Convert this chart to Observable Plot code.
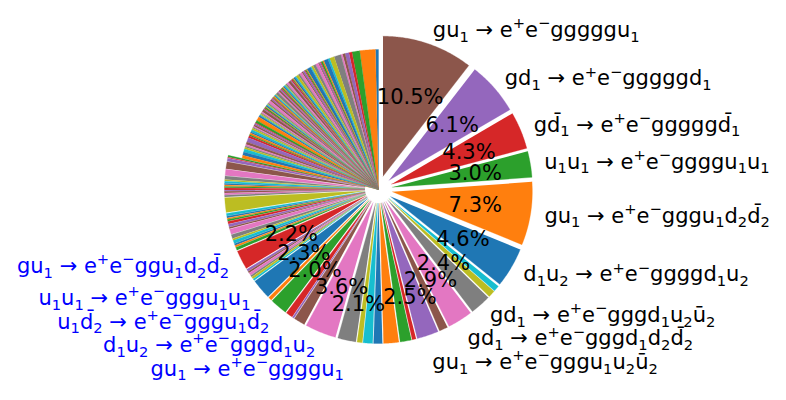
<!DOCTYPE html>
<html><head><meta charset="utf-8">
<script src="https://cdn.jsdelivr.net/npm/d3@7"></script>
<script src="https://cdn.jsdelivr.net/npm/@observablehq/plot@0.6"></script>
<style>body{margin:0;background:#fff}#chart svg{display:block}</style>
</head><body><div id="chart"></div>
<script>
// Slice values (percent), in drawing order: counter-clockwise from 12 o'clock
const values = [
  0.35, 1.8, 0.9, 0.35, 0.45, 0.3, 0.2, 0.8, 0.55, 0.2,
  0.5, 0.15, 0.2, 0.1, 0.15, 0.1, 0.35, 0.3, 0.25, 0.1,
  0.45, 0.1, 0.15, 0.1, 0.2, 0.15, 0.3, 0.2, 0.3, 0.15,
  0.2, 0.1, 0.1, 0.15, 0.1, 0.3, 0.25, 0.15, 0.1, 0.15,
  0.15, 0.1, 0.15, 0.1, 0.15, 0.2, 0.15, 0.3, 0.1, 0.1,
  0.1, 0.15, 0.1, 0.1, 0.15, 0.2, 0.3, 0.15, 0.1, 0.1,
  0.15, 0.1, 0.15, 0.1, 0.1, 0.3, 0.15, 0.1, 0.15, 0.1,
  0.2, 0.45, 0.3, 0.1, 0.15, 0.2, 0.15, 0.1, 0.2, 0.25,
  0.15, 0.2, 0.15, 0.25, 0.5, 0.3, 0.2, 0.15, 0.2, 0.35,
  0.4, 0.35, 0.2, 0.1, 0.35, 0.8, 0.7, 0.4, 0.15, 0.25,
  0.15, 0.15, 0.15, 0.25, 0.1, 0.2, 0.2, 0.2, 1.7, 0.3,
  0.2, 0.15, 0.2, 0.3, 0.3, 0.2, 0.6, 0.45, 0.2, 0.35,
  0.2, 0.2, 0.35, 2.2, 0.25, 0.2, 0.3, 0.2, 0.25, 0.2,
  2.3, 0.4, 2.0, 0.8, 0.2, 1.3, 3.6, 2.1, 0.6, 1.1,
  1.0, 1.75, 1.3, 0.45, 2.5, 1.0, 2.9, 2.4, 0.8, 0.7,
  4.6, 7.3, 3.0, 4.3, 6.1, 10.5
];
// Labels of the slices that carry a percentage (same order as in values)
const B = "\u0304";
const labelTexts = [
  "gu₁ → e⁺e⁻ggu₁d₂d" + B + "₂",
  "u₁u₁ → e⁺e⁻gggu₁u₁",
  "u₁d" + B + "₂ → e⁺e⁻gggu₁d" + B + "₂",
  "d₁u₂ → e⁺e⁻gggd₁u₂",
  "gu₁ → e⁺e⁻ggggu₁",
  "gu₁ → e⁺e⁻gggu₁u₂ū₂",
  "gd₁ → e⁺e⁻gggd₁d₂d" + B + "₂",
  "gd₁ → e⁺e⁻gggd₁u₂ū₂",
  "d₁u₂ → e⁺e⁻ggggd₁u₂",
  "gu₁ → e⁺e⁻gggu₁d₂d" + B + "₂",
  "u₁u₁ → e⁺e⁻ggggu₁u₁",
  "gd" + B + "₁ → e⁺e⁻gggggd" + B + "₁",
  "gd₁ → e⁺e⁻gggggd₁",
  "gu₁ → e⁺e⁻gggggu₁"
];
const labelGroup = ["alt","alt","alt","alt","alt","main","main","main","main","main","main","main","main","main"];

// ---- layout / style ----
const W = 786, H = 400, CX = 378, CY = 189, R = 140;
const EXPLODE_FROM = 92, EXPLODE = 0.1, PCT_MIN = 1.9, GAP = 23.5, PCT_GAP = 17, FS = 21;
const tab10 = ["#1f77b4","#ff7f0e","#2ca02c","#d62728","#9467bd","#8c564b","#e377c2","#7f7f7f","#bcbd22","#17becf"];
const groupColor = {alt: "#0000ff", main: "#000000"};
const FONT = "DejaVu Sans";

const total = d3.sum(values);
const rad = a => a * Math.PI / 180;
let cum = 0;
const slices = values.map((v, i) => {
  const a0 = 90 + 360 * cum / total; cum += v;
  const a1 = 90 + 360 * cum / total;
  return {i, v, a0, a1, mid: (a0 + a1) / 2, pct: 100 * v / total,
          ex: i >= EXPLODE_FROM ? EXPLODE : 0, color: tab10[i % 10]};
});
const pts = [];
for (const s of slices) {
  const ox = s.ex * Math.cos(rad(s.mid)), oy = s.ex * Math.sin(rad(s.mid));
  pts.push({id: s.i, x: ox, y: oy, c: s.color});
  const n = Math.max(2, Math.ceil((s.a1 - s.a0) / 0.5));
  for (let k = 0; k <= n; k++) {
    const a = rad(s.a0 + (s.a1 - s.a0) * k / n);
    pts.push({id: s.i, x: ox + Math.cos(a), y: oy + Math.sin(a), c: s.color});
  }
}
const big = slices.filter(s => s.pct >= PCT_MIN);
const pctData = big.map(s => ({
  x: (0.6 + s.ex) * Math.cos(rad(s.mid)), y: (0.6 + s.ex) * Math.sin(rad(s.mid)),
  t: s.pct.toFixed(1) + "%"
}));
const lab = big.map((s, j) => ({
  x: (1.1 + s.ex) * Math.cos(rad(s.mid)), y: (1.1 + s.ex) * Math.sin(rad(s.mid)),
  t: labelTexts[j], c: groupColor[labelGroup[j]]
}));
// keep texts from overlapping: push each one down below the previous
function pushDown(arr, gapPx) {
  const g = gapPx / R;
  for (let k = 1; k < arr.length; k++) if (arr[k].y > arr[k-1].y - g) arr[k].y = arr[k-1].y - g;
  return arr;
}
const right = pushDown(lab.filter(d => d.x >= 0).reverse(), GAP);
const left = pushDown(lab.filter(d => d.x < 0), GAP);
pushDown(pctData.filter(d => d.x >= 0).reverse(), PCT_GAP);
pushDown(pctData.filter(d => d.x < 0), PCT_GAP);

const chart = Plot.plot({
  width: W, height: H, margin: 0,
  style: {fontFamily: FONT, background: "#fff"},
  x: {domain: [-CX / R, (W - CX) / R], axis: null},
  y: {domain: [-(H - CY) / R, CY / R], axis: null},
  color: {type: "identity"},
  marks: [
    Plot.line(pts, {x: "x", y: "y", z: "id", fill: "c", stroke: "c", strokeWidth: 0.3, curve: "linear"}),
    Plot.text(pctData, {x: "x", y: "y", text: "t", fontSize: FS, fill: "#000", fontFamily: FONT}),
    Plot.text(right, {x: "x", y: "y", text: "t", fill: "c", fontSize: FS, textAnchor: "start", fontFamily: FONT}),
    Plot.text(left, {x: "x", y: "y", text: "t", fill: "c", fontSize: FS, textAnchor: "end", fontFamily: FONT})
  ]
});
// typeset sub- and superscripts like math text (smaller, shifted)
const kind = {"₁": ["sub", "1"], "₂": ["sub", "2"], "⁺": ["sup", "+"], "⁻": ["sup", "\u2212"]};
const shift = {norm: 0, sub: 0.22 * FS, sup: -0.42 * FS};
chart.querySelectorAll("text").forEach(t => {
  const s = t.textContent;
  if (!s.includes("→")) return;
  const segs = [];
  for (const ch of s) {
    const [k, c] = kind[ch] || ["norm", ch];
    if (segs.length && segs[segs.length - 1].k === k) segs[segs.length - 1].s += c;
    else segs.push({k, s: c});
  }
  t.textContent = "";
  let cur = 0;
  for (const sg of segs) {
    const ts = document.createElementNS("http://www.w3.org/2000/svg", "tspan");
    ts.textContent = sg.s;
    const target = shift[sg.k];
    if (target !== cur) ts.setAttribute("dy", (target - cur).toFixed(2));
    cur = target;
    if (sg.k !== "norm") ts.setAttribute("font-size", (FS * 0.7).toFixed(1));
    t.appendChild(ts);
  }
});
document.getElementById("chart").appendChild(chart);
</script>
</body></html>
